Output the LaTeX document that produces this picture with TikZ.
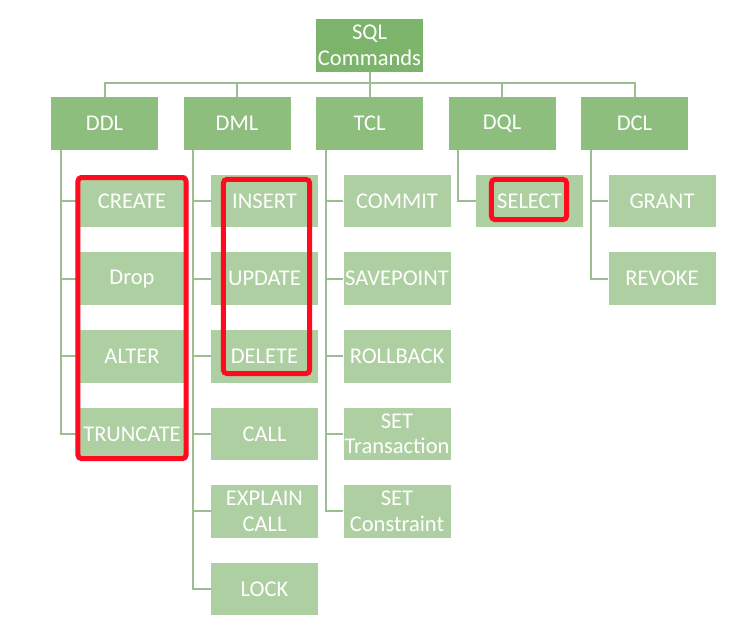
\documentclass[tikz,border=0pt]{standalone}
\usepackage{fontspec}
\setmainfont{Carlito}
\usetikzlibrary{positioning}

\definecolor{RootGreen}{HTML}{7DB46C}
\definecolor{TopGreen}{HTML}{8DBE7D}
\definecolor{LeafGreen}{HTML}{AECFA1}
\definecolor{LinkGreen}{HTML}{9CBC91}
\definecolor{MarkRed}{HTML}{FF0A1E}

\begin{document}
\begin{tikzpicture}[x=1bp, y=-1bp]
		\tikzstyle{Box} 	= [rectangle, text=white, minimum width=107bp, minimum height=52.6bp, inner sep=0pt, align=center, font=\fontsize{22.6}{26}\selectfont]
		\tikzstyle{Root}	= [Box, fill=RootGreen]
		\tikzstyle{Group}	= [Box, fill=TopGreen]
		\tikzstyle{Cmd}		= [Box, fill=LeafGreen]
		\tikzstyle{Link}	= [LinkGreen, line width=2bp]
		\tikzstyle{Mark}	= [MarkRed, line width=5bp, rounded corners=4bp]

		\fill [white] (0,0) rectangle (730,626);
		\useasboundingbox (0,0) rectangle (730,626);

		\node (sql) at (369.5, 45.5) [Root] {SQL\\Commands};

		\node (ddl) at (104.5, 123.5) [Group] {DDL};
		\node (dml) at (237.0, 123.5) [Group] {DML};
		\node (tcl) at (369.5, 123.5) [Group] {TCL};
		\node (dql) at (502.0, 123.5) [Group] {DQL};
		\node (dcl) at (634.5, 123.5) [Group] {DCL};

		\node (create)   at (132.0, 201.0) [Cmd] {CREATE};
		\node (drop)     at (132.0, 278.6) [Cmd] {Drop};
		\node (alter)    at (132.0, 356.2) [Cmd] {ALTER};
		\node (truncate) at (132.0, 433.8) [Cmd] {TRUNCATE};

		\node (insert)   at (264.5, 201.0) [Cmd] {INSERT};
		\node (update)   at (264.5, 278.6) [Cmd] {UPDATE};
		\node (delete)   at (264.5, 356.2) [Cmd] {DELETE};
		\node (call)     at (264.5, 433.8) [Cmd] {CALL};
		\node (explain)  at (264.5, 511.4) [Cmd] {EXPLAIN\\CALL};
		\node (lock)     at (264.5, 589.0) [Cmd] {LOCK};

		\node (commit)   at (397.0, 201.0) [Cmd] {COMMIT};
		\node (savept)   at (397.0, 278.6) [Cmd] {SAVEPOINT};
		\node (rollback) at (397.0, 356.2) [Cmd] {ROLLBACK};
		\node (settrans) at (397.0, 433.8) [Cmd] {SET\\Transaction};
		\node (setcons)  at (397.0, 511.4) [Cmd] {SET\\Constraint};

		\node (select)   at (529.5, 201.0) [Cmd] {SELECT};

		\node (grant)    at (662.0, 201.0) [Cmd] {GRANT};
		\node (revoke)   at (662.0, 278.6) [Cmd] {REVOKE};

		\draw [Link] (sql.south) -- ++(0,11) -| (ddl.north);
		\draw [Link] (sql.south) -- ++(0,11) -| (dml.north);
		\draw [Link] (sql.south) -- (tcl.north);
		\draw [Link] (sql.south) -- ++(0,11) -| (dql.north);
		\draw [Link] (sql.south) -- ++(0,11) -| (dcl.north);

		\draw [Link] ([xshift=10bp]ddl.south west) |- (create.west);
		\draw [Link] ([xshift=10bp]ddl.south west) |- (drop.west);
		\draw [Link] ([xshift=10bp]ddl.south west) |- (alter.west);
		\draw [Link] ([xshift=10bp]ddl.south west) |- (truncate.west);

		\draw [Link] ([xshift=10bp]dml.south west) |- (insert.west);
		\draw [Link] ([xshift=10bp]dml.south west) |- (update.west);
		\draw [Link] ([xshift=10bp]dml.south west) |- (delete.west);
		\draw [Link] ([xshift=10bp]dml.south west) |- (call.west);
		\draw [Link] ([xshift=10bp]dml.south west) |- (explain.west);
		\draw [Link] ([xshift=10bp]dml.south west) |- (lock.west);

		\draw [Link] ([xshift=10bp]tcl.south west) |- (commit.west);
		\draw [Link] ([xshift=10bp]tcl.south west) |- (savept.west);
		\draw [Link] ([xshift=10bp]tcl.south west) |- (rollback.west);
		\draw [Link] ([xshift=10bp]tcl.south west) |- (settrans.west);
		\draw [Link] ([xshift=10bp]tcl.south west) |- (setcons.west);

		\draw [Link] ([xshift=10bp]dql.south west) |- (select.west);

		\draw [Link] ([xshift=10bp]dcl.south west) |- (grant.west);
		\draw [Link] ([xshift=10bp]dcl.south west) |- (revoke.west);

		% highlighted commands
		\draw [Mark] ([shift={(-0.5,3)}]create.north west) rectangle ([shift={(0.5,-1.6)}]truncate.south east);
		\draw [Mark] ([shift={(12.5,4.8)}]insert.north west) rectangle ([shift={(-8.5,-9)}]delete.south east);
		\draw [Mark] ([shift={(15.5,4.8)}]select.north west) rectangle ([shift={(-16.5,-7.8)}]select.south east);
	\end{tikzpicture}
\end{document}
